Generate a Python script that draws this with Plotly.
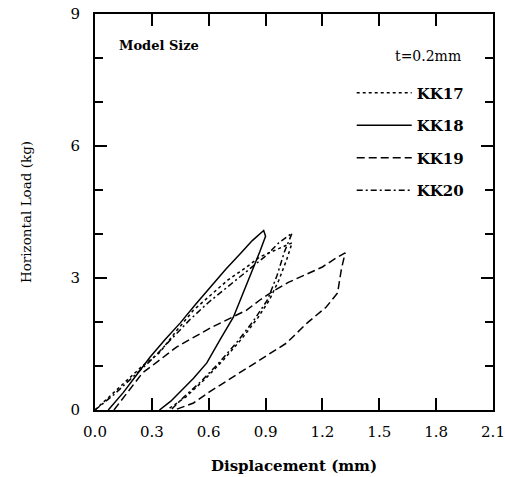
import plotly.graph_objects as go

# KK17 (dotted)
kk17_x = [0.0, 0.05, 0.15, 0.25, 0.34, 0.43, 0.52, 0.61, 0.70, 0.80, 0.87, 0.96, 1.04,
          1.01, 0.97, 0.92, 0.86, 0.78, 0.68, 0.58, 0.48, 0.38]
kk17_y = [0.0, 0.2, 0.62, 1.0, 1.3, 1.8, 2.27, 2.6, 2.95, 3.25, 3.48, 3.65, 3.8,
          3.4, 2.95, 2.5, 2.1, 1.65, 1.15, 0.7, 0.3, 0.0]
# KK18 (solid)
kk18_x = [0.07, 0.15, 0.22, 0.29, 0.37, 0.45, 0.53, 0.61, 0.69, 0.77, 0.83, 0.89,
          0.90, 0.87, 0.83, 0.78, 0.73, 0.66, 0.59, 0.52, 0.46, 0.40, 0.34]
kk18_y = [0.0, 0.4, 0.8, 1.2, 1.6, 1.98, 2.4, 2.8, 3.2, 3.57, 3.85, 4.08,
          3.95, 3.6, 3.18, 2.65, 2.11, 1.6, 1.07, 0.72, 0.45, 0.2, 0.0]
# KK19 (dashed)
kk19_x = [0.10, 0.18, 0.25, 0.33, 0.43, 0.52, 0.62, 0.72, 0.80, 0.87, 0.94, 1.02, 1.10, 1.20, 1.27, 1.32,
          1.30, 1.28, 1.22, 1.12, 1.01, 0.87, 0.78, 0.70, 0.60, 0.52, 0.42]
kk19_y = [0.0, 0.45, 0.84, 1.1, 1.43, 1.65, 1.89, 2.1, 2.27, 2.5, 2.7, 2.9, 3.05, 3.25, 3.45, 3.57,
          3.2, 2.66, 2.34, 1.98, 1.52, 1.14, 0.9, 0.68, 0.4, 0.16, 0.0]
# KK20 (dash-dot)
kk20_x = [0.0, 0.1, 0.2, 0.3, 0.4, 0.5, 0.6, 0.7, 0.8, 0.9, 0.97, 1.04,
          1.00, 0.96, 0.91, 0.84, 0.76, 0.66, 0.56, 0.47, 0.40]
kk20_y = [0.0, 0.35, 0.75, 1.15, 1.6, 2.05, 2.45, 2.8, 3.15, 3.5, 3.8, 4.02,
          3.6, 3.05, 2.5, 2.05, 1.6, 1.1, 0.65, 0.3, 0.0]

series_names = ["KK17", "KK18", "KK19", "KK20"]
x_ticks = [0.0, 0.3, 0.6, 0.9, 1.2, 1.5, 1.8, 2.1]
x_labels = ["0.0", "0.3", "0.6", "0.9", "1.2", "1.5", "1.8", "2.1"]
y_ticks = [0, 3, 6, 9]

serif = "DejaVu Serif"
data = [(kk17_x, kk17_y, "dot"), (kk18_x, kk18_y, "solid"),
        (kk19_x, kk19_y, "8px,4px"), (kk20_x, kk20_y, "6px,3px,2px,3px")]

fig = go.Figure()
for name, (xs, ys, dash) in zip(series_names, data):
    fig.add_trace(go.Scatter(x=xs, y=ys, mode="lines", name=name, legendgroup=name,
                             line=dict(color="black", width=1.5, dash=dash)))

axis_common = dict(showline=True, linecolor="black", linewidth=2, mirror="allticks",
                   ticks="inside", tickcolor="black", tickwidth=2, showgrid=False,
                   zeroline=False, automargin=False,
                   tickfont=dict(family=serif, size=15, color="black"))

fig.update_layout(
    width=505, height=477,
    margin=dict(l=95, r=12, t=14, b=67),
    plot_bgcolor="white", paper_bgcolor="white",
    xaxis=dict(range=[0, 2.1], tickvals=x_ticks, ticktext=x_labels, ticklen=12,
               ticklabelstandoff=7,
               title=dict(text="<b>Displacement (mm)</b>", font=dict(family=serif, size=15, color="black"), standoff=20),
               **axis_common),
    yaxis=dict(range=[0, 9], tickvals=y_ticks, ticklen=12, ticklabelstandoff=10,
               minor=dict(dtick=1, ticklen=8, tickwidth=2, tickcolor="black", ticks="inside"),
               title=dict(text="Horizontal Load (kg)", font=dict(family=serif, size=13.5, color="black"), standoff=36),
               **axis_common),
    legend=dict(x=0.645, y=0.842, xanchor="left", yanchor="top", bgcolor="rgba(0,0,0,0)",
                font=dict(family=serif, size=15, color="black", weight="bold"),
                tracegroupgap=10, itemwidth=55),
    showlegend=True,
    annotations=[
        dict(text="<b>Model Size</b>", x=0.055, y=0.92, xref="paper", yref="paper",
             xanchor="left", yanchor="middle", showarrow=False,
             font=dict(family=serif, size=13, color="black")),
        dict(text="t=0.2mm", x=0.925, y=0.895, xref="paper", yref="paper",
             xanchor="right", yanchor="middle", showarrow=False,
             font=dict(family=serif, size=14, color="black")),
    ],
)

fig.write_html("out.html")
